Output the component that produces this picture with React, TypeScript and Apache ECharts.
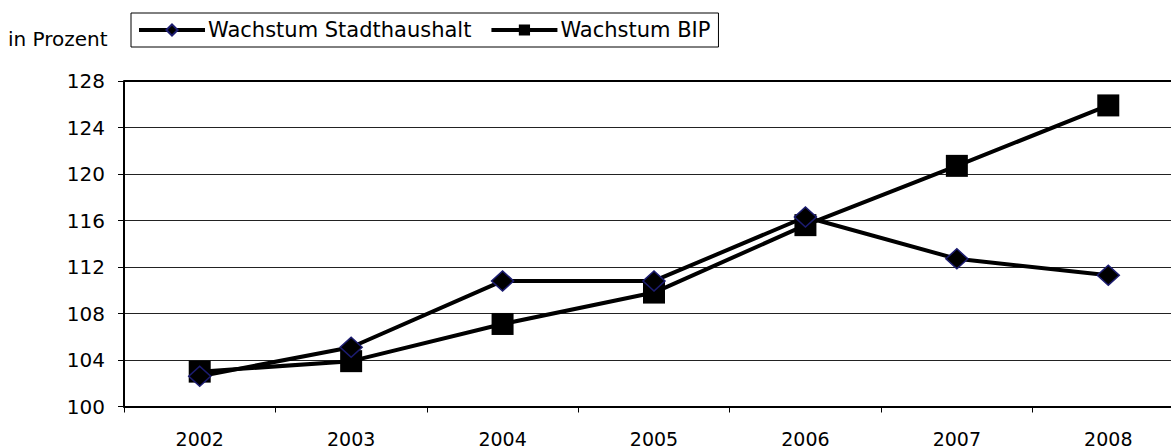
import React, { useEffect, useRef } from "react";
import * as echarts from "echarts";

const years = ["2002", "2003", "2004", "2005", "2006", "2007", "2008"];
const stadthaushalt = [102.6, 105.1, 110.8, 110.8, 116.3, 112.7, 111.3];
const bip = [103.0, 103.9, 107.1, 109.8, 115.6, 120.7, 125.9];
const yTicks = { min: 100, max: 128, interval: 4 };
const unitLabel = "in Prozent";
const seriesNames = ["Wachstum Stadthaushalt", "Wachstum BIP"];

const FONT = "DejaVu Sans";

export default function App() {
  const ref = useRef<HTMLDivElement>(null);
  useEffect(() => {
    document.body.style.margin = "0";
    const chart = echarts.init(ref.current!, null, { renderer: "svg" });
    chart.setOption({
      animation: false,
      backgroundColor: "#ffffff",
      textStyle: { fontFamily: FONT, color: "#000" },
      title: {
        text: unitLabel,
        left: 8,
        top: 29,
        padding: 0,
        textStyle: { fontFamily: FONT, fontSize: 20, fontWeight: "normal", color: "#000" },
      },
      legend: {
        left: 131,
        top: 13,
        padding: [5, 8, 5, 6],
        itemWidth: 66,
        itemHeight: 14,
        itemGap: 18,
        borderColor: "#000",
        borderWidth: 1,
        borderRadius: 0,
        lineStyle: { width: 4 },
        textStyle: { fontFamily: FONT, fontSize: 21, color: "#000", lineHeight: 22, padding: [2, 0, 0, -2] },
        data: seriesNames,
      },
      grid: { left: 124, top: 81, width: 1060, height: 326, containLabel: false },
      xAxis: {
        type: "category",
        data: years,
        boundaryGap: true,
        axisLine: { lineStyle: { color: "#000", width: 2 } },
        axisTick: { show: true, length: 6, lineStyle: { color: "#000", width: 1 } },
        axisLabel: { fontFamily: FONT, fontSize: 19, lineHeight: 16, color: "#000", margin: 24 },
        splitLine: { show: false },
      },
      yAxis: {
        type: "value",
        min: yTicks.min,
        max: yTicks.max,
        interval: yTicks.interval,
        axisLine: { show: true, lineStyle: { color: "#000", width: 2 } },
        axisTick: { show: true, length: 6, lineStyle: { color: "#000", width: 1 } },
        axisLabel: { fontFamily: FONT, fontSize: 20, color: "#000", margin: 19 },
        splitLine: { show: true, lineStyle: { color: "#222", width: 1 } },
      },
      series: [
        {
          name: seriesNames[0],
          type: "line",
          data: stadthaushalt,
          symbol: "diamond",
          symbolSize: [22, 20],
          lineStyle: { color: "#000", width: 4 },
          itemStyle: { color: "#000", borderColor: "#1c1c70", borderWidth: 1.5 },
          z: 3,
        },
        {
          name: seriesNames[1],
          type: "line",
          data: bip,
          symbol: "rect",
          symbolSize: 22,
          lineStyle: { color: "#000", width: 4 },
          itemStyle: { color: "#000", borderColor: "#000", borderWidth: 0 },
          z: 2,
        },
      ],
      graphic: [
        {
          type: "line",
          shape: { x1: 124, y1: 81, x2: 1190, y2: 81 },
          style: { stroke: "#000", lineWidth: 2 },
          z: 10,
        },
      ],
    });
    return () => chart.dispose();
  }, []);
  return (
    <div style={{ width: 1171, height: 448, overflow: "hidden", position: "relative" }}>
      <div ref={ref} style={{ width: 1190, height: 448 }} />
    </div>
  );
}
